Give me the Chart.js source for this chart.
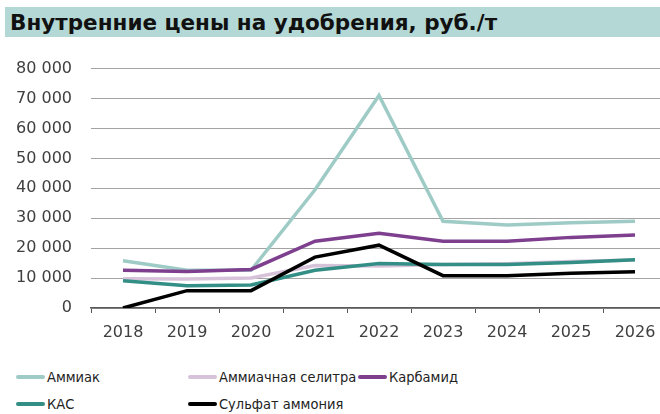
<!DOCTYPE html>
<html lang="ru">
<head>
<meta charset="utf-8">
<title>Внутренние цены на удобрения</title>
<script src="https://cdn.jsdelivr.net/npm/chart.js@4.4.1/dist/chart.umd.min.js"></script>
<style>
  html, body { margin: 0; padding: 0; background: #fff; overflow: hidden; }
  body { width: 660px; height: 414px; position: relative; }
  #title {
    position: absolute; left: 5px; top: 7px; width: 655px; height: 30px;
    background: #b3d8d5; font-family: "DejaVu Sans", sans-serif; font-weight: bold;
    font-size: 21.5px; line-height: 31px; padding-left: 5px; box-sizing: border-box; color: #111;
    white-space: nowrap;
  }
  #wrap { position: absolute; left: 0; top: 40px; width: 680px; height: 308px; }
  #legend { position: absolute; left: 0; top: 364px; width: 660px; height: 50px;
    font-family: "DejaVu Sans Condensed", "DejaVu Sans", sans-serif; font-size: 14.5px; color: #222; }
  .item { position: absolute; display: flex; align-items: center; height: 20px; white-space: nowrap; }
  .item span.sw { display: inline-block; width: 29px; height: 4px; border-radius: 2px; margin-right: 2px; }
</style>
</head>
<body>
<div id="title">Внутренние цены на удобрения, руб./т</div>
<div id="wrap"><canvas id="chart" width="680" height="308"></canvas></div>
<div id="legend"></div>
<script>
// Годы
const years = ["2018", "2019", "2020", "2021", "2022", "2023", "2024", "2025", "2026"];

// Цены, руб./т
const ammiak   = [15800, 12600, 12600, 39500, 71000, 29000, 27700, 28500, 29000];
const selitra  = [9800, 9700, 10000, 14200, 14000, 14500, 14800, 15500, 16000];
const karbamid = [12600, 12200, 12900, 22300, 25000, 22300, 22300, 23600, 24400];
const kas      = [9100, 7400, 7700, 12600, 14900, 14500, 14500, 15200, 16100];
const sulfat   = [0, 5800, 5800, 17000, 21000, 10800, 10800, 11600, 12100];

// Деления оси Y
const yTicks = [0, 10000, 20000, 30000, 40000, 50000, 60000, 70000, 80000];

const seriesNames = ["Аммиак", "Аммиачная селитра", "Карбамид", "КАС", "Сульфат аммония"];
const seriesColors = ["#9fcbc6", "#d6c3da", "#7d3f8e", "#338f86", "#000000"];
const seriesData = [ammiak, selitra, karbamid, kas, sulfat];

function fmt(v) {
  return String(v).replace(/\B(?=(\d{3})+(?!\d))/g, " ");
}

// последние серии рисуются поверх (как в Excel)
const datasets = seriesNames.map((name, i) => ({
  label: name,
  data: seriesData[i],
  borderColor: seriesColors[i],
  backgroundColor: seriesColors[i],
  borderWidth: 3.5,
  pointRadius: 0,
  tension: 0,
  fill: false,
  order: seriesNames.length - i,
}));

const chart = new Chart(document.getElementById("chart"), {
  type: "line",
  data: { labels: years, datasets },
  options: {
    responsive: false,
    animation: false,
    layout: { padding: { top: 24, right: 13, left: 0, bottom: 0 } },
    plugins: { legend: { display: false }, tooltip: { enabled: false } },
    scales: {
      x: {
        offset: true,
        grid: { drawOnChartArea: false, drawTicks: true, tickLength: 5, color: "#595959", offset: true },
        border: { display: true, color: "#595959", width: 1.5 },
        ticks: { color: "#404040", padding: 10, font: { family: "DejaVu Sans", size: 16 } },
        afterFit: (s) => { s.height = 40; },
      },
      y: {
        min: 0,
        max: 80000,
        afterBuildTicks: (s) => { s.ticks = yTicks.map((v) => ({ value: v })); },
        grid: { color: "#a3a3a3", lineWidth: 1, drawTicks: false },
        border: { display: false },
        ticks: { color: "#404040", padding: 19, callback: (v) => fmt(v), font: { family: "DejaVu Sans", size: 16 } },
        afterFit: (s) => { s.width = 91; },
      },
    },
  },
});

// Легенда
const legendPos = [[16, 0], [188, 0], [358, 0], [16, 1], [188, 1]];
const legend = document.getElementById("legend");
chart.data.datasets.forEach((d, i) => {
  const el = document.createElement("div");
  el.className = "item";
  el.style.left = legendPos[i][0] + "px";
  el.style.top = (legendPos[i][1] * 27 + 3) + "px";
  el.innerHTML = `<span class="sw" style="background:${d.borderColor}"></span>${d.label}`;
  legend.appendChild(el);
});
</script>
</body>
</html>
